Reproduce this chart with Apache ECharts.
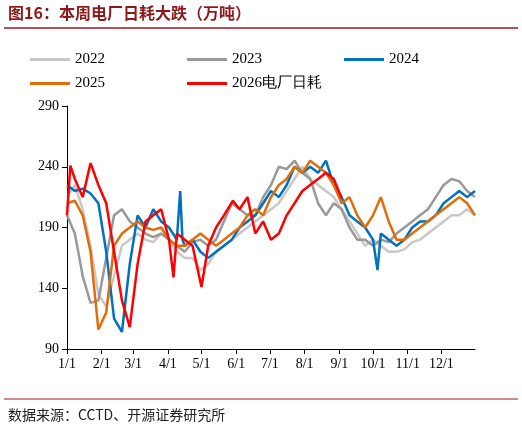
<!DOCTYPE html>
<html><head><meta charset="utf-8">
<script src="https://cdn.jsdelivr.net/npm/echarts@6/dist/echarts.min.js"></script>
<style>html,body{margin:0;padding:0;background:#fff}#c{width:522px;height:437px}</style>
</head><body><div id="c"></div>
<script>
const days = [0,7,14,21,28,35,42,49,56,63,70,77,84,91,98,105,112,119,126,133,140,147,154,161,168,175,182,189,196,203,210,217,224,231,238,245,252,259,266,273,280,287,294,301,308,315,322,329,336,343,350,357,364];
const s2022 = [215,225,205,175,135,125,150,175,180,185,180,178,185,180,170,165,165,155,160,170,175,180,185,190,195,200,205,210,220,230,240,230,225,220,215,205,195,185,175,180,175,170,170,172,178,180,185,190,195,200,200,205,200];
const s2023 = [200,185,150,128,130,165,200,205,195,190,185,182,185,180,175,170,178,180,175,180,195,210,205,200,200,215,225,240,238,245,235,230,210,200,210,205,190,180,180,175,180,178,185,190,195,200,205,215,225,230,228,220,215];
const days2024 = [0,7,14,21,28,35,42,49,56,63,70,77,84,91,98,101,103,105,112,119,126,133,140,147,154,161,168,175,182,189,196,203,210,217,224,231,238,245,252,259,266,273,277,280,287,294,301,308,315,322,329,336,343,350,357,364];
const s2024 = [225,220,222,218,210,170,115,104,160,200,190,205,195,190,180,220,180,175,180,170,165,170,175,180,190,195,200,210,220,215,225,240,235,240,235,245,225,215,200,195,190,180,155,185,180,175,180,190,195,195,200,210,215,220,215,220];
const s2025 = [210,212,200,170,106,120,175,185,190,195,190,188,190,180,175,175,180,185,180,175,180,185,190,200,205,200,215,225,230,240,235,245,240,235,225,210,215,200,190,200,215,195,180,180,185,190,195,200,205,210,215,210,200];
const days2026 = [0,3,7,14,21,28,35,42,49,56,63,70,77,84,91,95,98,105,112,120,126,133,140,148,154,161,168,175,182,189,196,203,210,217,224,231,238,245];
const s2026 = [200,241,230,215,243,225,210,170,130,108,160,195,200,205,180,149,185,180,175,141,175,190,200,212,205,215,185,195,180,185,200,210,220,225,230,235,230,214];
const monthDays = [0,31,59,90,120,151,181,212,243,273,304,334];
const monthLabels = ['1/1','2/1','3/1','4/1','5/1','6/1','7/1','8/1','9/1','10/1','11/1','12/1'];

const pair = (d,v)=>d.map((x,i)=>[x,v[i]]);
const mk = (name,data,color,z)=>({name,type:'line',data,showSymbol:false,smooth:false,z,lineStyle:{width:2.5,color},itemStyle:{color}});
const chart = echarts.init(document.getElementById('c'));
chart.setOption({
  animation:false,
  textStyle:{fontFamily:'Liberation Serif'},
  graphic:[
    {type:'text',left:8,top:5,style:{text:'图16：本周电厂日耗大跌（万吨）',font:'bold 16px "Noto Sans CJK SC"',fill:'#8B1A1A'}},
    {type:'line',shape:{x1:4,y1:28,x2:518,y2:28},style:{stroke:'#A0171C',lineWidth:1.5}},
    {type:'line',shape:{x1:4,y1:399,x2:518,y2:399},style:{stroke:'#A0171C',lineWidth:1}},
    {type:'text',left:8,top:408,style:{text:'数据来源：CCTD、开源证券研究所',font:'14px "Noto Sans CJK SC"',fill:'#222'}}
  ],
  legend:[
    {data:['2022','2023','2024'],left:25,top:47,itemWidth:40,itemHeight:3,itemGap:82,icon:'rect',textStyle:{fontSize:15,color:'#000',fontFamily:'Liberation Serif'}},
    {data:['2025','2026电厂日耗'],left:25,top:71,itemWidth:40,itemHeight:3,itemGap:82,icon:'rect',textStyle:{fontSize:15,color:'#000',fontFamily:'Liberation Serif'}}
  ],
  grid:{left:67,right:47,top:106,bottom:88},
  xAxis:{type:'value',min:0,max:364,splitLine:{show:false},
    axisLine:{show:true,lineStyle:{color:'#000'}},
    axisTick:{show:true,customValues:monthDays,lineStyle:{color:'#000'}},
    axisLabel:{customValues:monthDays,formatter:(v)=>monthLabels[monthDays.indexOf(v)],fontSize:14,color:'#000',fontFamily:'Liberation Serif'}},
  yAxis:{type:'value',min:90,max:290,interval:50,splitLine:{show:false},
    axisLine:{show:true,lineStyle:{color:'#000'}},
    axisTick:{show:true,lineStyle:{color:'#000'}},
    axisLabel:{fontSize:14,color:'#000',fontFamily:'Liberation Serif'}},
  series:[
    mk('2022',pair(days,s2022),'#C8C8C8',1),
    mk('2023',pair(days,s2023),'#999999',2),
    mk('2024',pair(days2024,s2024),'#0070C0',3),
    mk('2025',pair(days,s2025),'#E36C09',4),
    mk('2026电厂日耗',pair(days2026,s2026),'#FF0000',5)
  ]
});
</script></body></html>
